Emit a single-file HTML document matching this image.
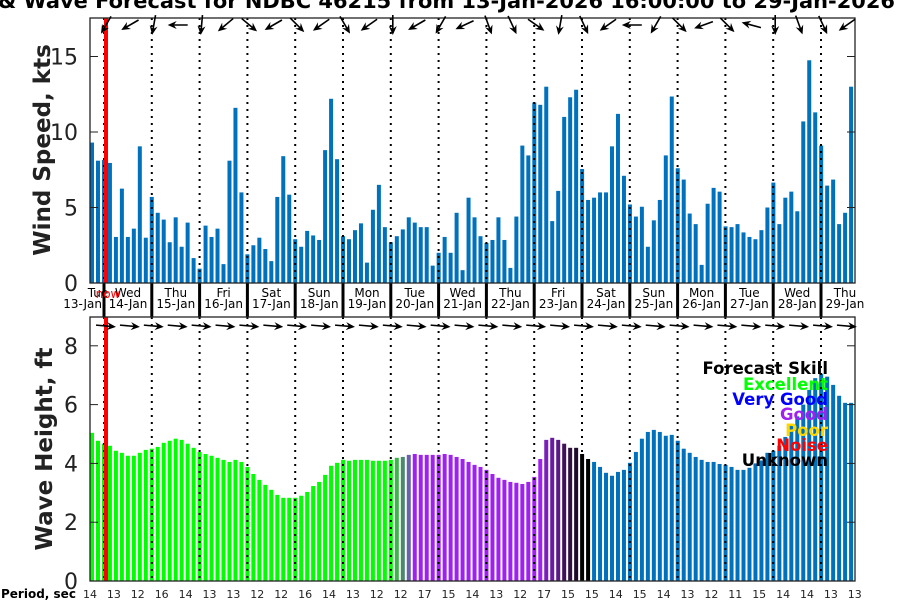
<!DOCTYPE html>
<html><head><meta charset="utf-8"><style>
html,body{margin:0;padding:0;background:#fff;}
svg{display:block;font-family:"DejaVu Sans","Liberation Sans",sans-serif;}
</style></head><body>
<svg id="chart" width="900" height="600" viewBox="0 0 900 600" xmlns="http://www.w3.org/2000/svg">
<text x="-2" y="8" font-size="20" font-weight="bold" textLength="897" lengthAdjust="spacingAndGlyphs">&amp; Wave Forecast for NDBC 46215 from 13-Jan-2026 16:00:00 to 29-Jan-2026</text>
<g id="gtop"></g><g id="gbot"></g><g id="gmid"></g>
<text transform="translate(50,150) rotate(-90)" text-anchor="middle" font-size="23" font-weight="bold" fill="#222">Wind Speed, kts</text>
<text transform="translate(52,449) rotate(-90)" text-anchor="middle" font-size="23" font-weight="bold" fill="#222">Wave Height, ft</text>
<text x="1" y="598" font-size="12" font-weight="bold">Period, sec</text>
<g id="legend" font-size="16.5" font-weight="bold" text-anchor="end">
<text x="828" y="374" fill="#000">Forecast Skill</text>
<text x="828" y="390" fill="#00ff00">Excellent</text>
<text x="828" y="405" fill="#0000ff">Very Good</text>
<text x="828" y="420" fill="#a020f0">Good</text>
<text x="828" y="436" fill="#ffd700">Poor</text>
<text x="828" y="451" fill="#ff0000">Noise</text>
<text x="828" y="466" fill="#000">Unknown</text>
</g>
</svg>
<script>
const windSpeed=[9.3,8.1,8.15,7.95,3.05,6.25,3.05,3.6,9.05,3.0,5.7,4.65,4.2,2.7,4.35,2.4,4.0,1.65,0.95,3.8,3.05,3.6,1.25,8.1,11.6,6.0,1.9,2.5,3.0,2.25,1.45,5.7,8.4,5.85,2.9,2.4,3.45,3.15,2.85,8.8,12.2,8.2,3.1,2.9,3.5,3.95,1.35,4.85,6.5,3.7,2.7,3.1,3.55,4.35,4.0,3.7,3.7,1.15,2.0,3.05,2.0,4.65,0.85,5.65,4.35,3.1,2.65,2.85,4.35,2.85,1.0,4.4,9.1,8.45,11.95,11.8,13.0,4.1,6.1,11.0,12.3,12.8,7.55,5.5,5.65,6.0,6.0,9.05,11.2,7.1,5.2,4.4,5.05,2.4,4.15,5.5,8.45,12.35,7.6,6.85,4.6,3.9,1.2,5.25,6.3,6.05,3.75,3.7,3.9,3.35,3.05,2.9,3.5,5.0,6.65,3.9,5.65,6.05,4.75,10.7,14.75,11.3,9.1,6.45,6.85,3.9,4.65,13.0];
const waveHeight=[5.04,4.77,4.67,4.6,4.43,4.36,4.26,4.26,4.36,4.46,4.5,4.56,4.7,4.77,4.84,4.8,4.67,4.53,4.39,4.32,4.26,4.19,4.12,4.05,4.12,4.05,3.88,3.64,3.44,3.27,3.1,2.93,2.83,2.83,2.83,2.9,3.03,3.23,3.37,3.61,3.92,4.02,4.12,4.09,4.12,4.12,4.12,4.09,4.09,4.09,4.12,4.19,4.22,4.29,4.32,4.29,4.29,4.29,4.29,4.32,4.29,4.22,4.15,4.05,3.95,3.88,3.78,3.64,3.51,3.44,3.37,3.34,3.3,3.37,3.54,4.15,4.8,4.87,4.8,4.67,4.53,4.53,4.32,4.15,4.05,3.88,3.68,3.58,3.71,3.78,4.02,4.39,4.84,5.07,5.14,5.07,4.94,4.97,4.77,4.5,4.36,4.22,4.12,4.05,4.05,3.98,3.95,3.88,3.78,3.78,3.85,4.0,4.1,4.36,4.43,4.6,4.9,5.3,5.6,6.0,6.5,6.9,7.05,6.95,6.67,6.3,6.06,6.06];
const periodLabels=['14','13','12','16','14','13','13','12','12','16','14','13','12','12','17','15','14','13','12','17','15','15','14','15','14','13','12','11','15','14','14','13','13'];
const windDirs=[120,150,100,180,95,140,40,150,45,145,60,145,90,150,120,155,70,65,35,100,65,145,180,120,45,160,45,195,90,70,65,145];
const dayNames=['Wed','Thu','Fri','Sat','Sun','Mon','Tue','Wed','Thu','Fri','Sat','Sun','Mon','Tue','Wed','Thu'];
const dayDates=['14-Jan','15-Jan','16-Jan','17-Jan','18-Jan','19-Jan','20-Jan','21-Jan','22-Jan','23-Jan','24-Jan','25-Jan','26-Jan','27-Jan','28-Jan','29-Jan'];
const windTicks=[0,5,10,15];
const waveTicks=[0,2,4,6,8];
const waveColors=[];
for(let i=0;i<waveHeight.length;i++){let c;
 if(i<=50)c='#00ff00';else if(i==51)c='#3cb44b';else if(i==52)c='#4a8a6a';else if(i==53)c='#6a60b0';else if(i<=75)c='#a020f0';
 else c=['#7a1fb8','#6a1aa0','#5a1a86','#40105a','#301040','#200a28','#000','#000'][i-76]||'#0072bd';
 waveColors.push(c);}

const NS='http://www.w3.org/2000/svg';
function mk(p,t,a){const e=document.createElementNS(NS,t);for(const k in a)e.setAttribute(k,a[k]);p.appendChild(e);return e;}
const X0=90,X1=855,BW=5.977;
const xBar=i=>X0+i*BW;
const dayX=k=>104+k*47.8;
const arrX=k=>106+k*23.9;
const yW=v=>283-v*15.1;
const yH=v=>581-v*29.4;

function panel(g,ticks,yf,name){
 for(const t of ticks){
  const tx=mk(g,'text',{x:78,y:yf(t)+8,'text-anchor':'end','font-size':22,fill:'#222'});tx.textContent=t;
  
  
  mk(g,'line',{x1:X0,x2:X0+8,y1:yf(t),y2:yf(t),stroke:'#222','stroke-width':1});
  mk(g,'line',{x1:X1-8,x2:X1,y1:yf(t),y2:yf(t),stroke:'#222','stroke-width':1});
 }
}
const gTop=document.getElementById('gtop'),gBot=document.getElementById('gbot'),gMid=document.getElementById('gmid');
windSpeed.forEach((v,i)=>{const r=mk(gTop,'rect',{x:xBar(i),y:yW(v),width:4,height:283-yW(v),fill:'#0072bd'});
 
 });
waveHeight.forEach((v,i)=>{const r=mk(gBot,'rect',{x:xBar(i),y:yH(v),width:4,height:581-yH(v),fill:waveColors[i]});
 
 });
panel(gTop,windTicks,yW,'wind');
panel(gBot,waveTicks,yH,'wave');
for(let k=0;k<16;k++){
 mk(gTop,'line',{x1:dayX(k),x2:dayX(k),y1:18,y2:283,stroke:'#000','stroke-width':2,'stroke-dasharray':'2,5'});
 mk(gBot,'line',{x1:dayX(k),x2:dayX(k),y1:317,y2:581,stroke:'#000','stroke-width':2,'stroke-dasharray':'2,5'});
 mk(gMid,'rect',{x:dayX(k)-1.5,y:283,width:3,height:34,fill:'#000'});
 const a=mk(gMid,'text',{x:dayX(k)+24,y:297,'text-anchor':'middle','font-size':12});a.textContent=dayNames[k];
 
 
 const b=mk(gMid,'text',{x:dayX(k)+24,y:308,'text-anchor':'middle','font-size':12});b.textContent=dayDates[k];
 
 
}
let t=mk(gMid,'text',{x:98,y:297,'text-anchor':'middle','font-size':12});t.textContent='Tue';
t=mk(gMid,'text',{x:102,y:308,'text-anchor':'end','font-size':12});t.textContent='13-Jan';
t=mk(gMid,'text',{x:108,y:298,'text-anchor':'middle','font-size':12,fill:'#f00'});t.textContent='now';


mk(gMid,'rect',{x:104,y:18,width:4,height:265,fill:'#f00'});
mk(gMid,'rect',{x:104,y:317,width:4,height:264,fill:'#f00'});
mk(gMid,'rect',{x:X0,y:18,width:X1-X0,height:265,fill:'none',stroke:'#222','stroke-width':1.3});
mk(gMid,'rect',{x:X0,y:317,width:X1-X0,height:264,fill:'none',stroke:'#222','stroke-width':1.3});
function arrow(cx,cy,ang,name){
 const g=mk(gMid,'g',{transform:`translate(${cx},${cy}) rotate(${ang})`});
 
 
 mk(g,'line',{x1:-10,y1:0,x2:8,y2:0,stroke:'#000','stroke-width':1.6});
 mk(g,'path',{d:'M10,0 L1,-4 L4,0 L1,4 Z',fill:'#000'});
}
windDirs.forEach((d,k)=>arrow(arrX(k),25,d,'wind-direction-arrow'));
for(let k=0;k<32;k++)arrow(arrX(k),326,5,'wave-direction-arrow');
periodLabels.forEach((p,k)=>{const e=mk(gMid,'text',{x:X0+k*23.9,y:598,'text-anchor':'middle','font-size':11,fill:'#222'});e.textContent=p;
 
 });
document.getElementById('chart').appendChild(document.getElementById('legend'));
</script>
</body></html>
